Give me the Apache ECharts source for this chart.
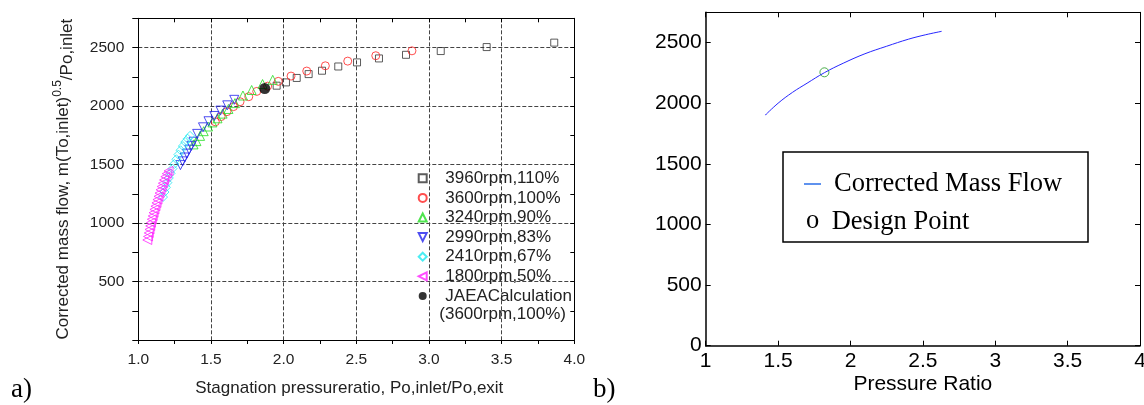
<!DOCTYPE html>
<html>
<head>
<meta charset="utf-8">
<script src="https://cdn.jsdelivr.net/npm/echarts@6/dist/echarts.min.js"></script>
<style>
  html, body { margin: 0; padding: 0; background: #fff; }
  #chart { width: 1144px; height: 405px; }
</style>
</head>
<body>
<div id="chart"></div>
<script>
// ---- Panel a) measured compressor map, [pressure ratio, corrected mass flow] ----
const speed3960 = [[1.952,2174],[2.016,2202],[2.090,2240],[2.172,2273],[2.264,2302],[2.376,2338],
  [2.505,2373],[2.656,2407],[2.842,2438],[3.081,2470],[3.397,2504],[3.862,2542]];
const speed3600 = [[1.53,1865],[1.57,1910],[1.61,1952],[1.655,1995],[1.70,2037],[1.76,2080],[1.815,2125],
  [1.89,2170],[1.963,2211],[2.051,2256],[2.159,2299],[2.287,2344],[2.441,2384],[2.634,2430],[2.883,2472]];
const speed3240 = [[1.38,1672],[1.40,1700],[1.425,1745],[1.45,1785],[1.48,1825],[1.51,1860],[1.545,1895],
  [1.58,1935],[1.62,1975],[1.665,2025],[1.72,2090],[1.78,2137],[1.855,2188],[1.925,2224]];
const speed2990 = [[1.29,1495],[1.305,1527],[1.32,1560],[1.335,1593],[1.35,1627],[1.365,1660],[1.38,1695],
  [1.405,1762],[1.445,1818],[1.483,1870],[1.523,1915],[1.565,1961],[1.612,2006],[1.66,2053]];
const speed2410 = [[1.17,1222],[1.18,1265],[1.19,1305],[1.20,1345],[1.21,1385],[1.222,1425],[1.235,1465],
  [1.248,1505],[1.262,1545],[1.276,1585],[1.291,1622],[1.307,1658],[1.323,1692],[1.34,1720],[1.356,1745]];
const speed1800 = [[1.062,855],[1.067,885],[1.072,915],[1.077,945],[1.082,975],[1.087,1003],[1.093,1032],
  [1.099,1060],[1.105,1088],[1.111,1116],[1.118,1144],[1.125,1172],[1.132,1200],[1.139,1228],[1.146,1256],
  [1.153,1284],[1.161,1312],[1.169,1340],[1.177,1368],[1.186,1396],[1.196,1422],[1.208,1445]];
const jaeaPoint = [[1.87,2150]];

const seriesNamesA = ['3960rpm,110%', '3600rpm,100%', '3240rpm,90%', '2990rpm,83%',
  '2410rpm,67%', '1800rpm,50%', 'JAEACalculation'];

// ---- Panel b) calculated curve and design point ----
const massFlowCurve = [[1.41,1900],[1.50,2000],[1.60,2090],[1.70,2165],[1.82,2252],[1.95,2330],
  [2.10,2408],[2.25,2470],[2.40,2528],[2.52,2565],[2.63,2593]];
const designPoint = [[1.82,2255]];

const SANS = '"Liberation Sans", Arial, sans-serif';
const SERIF = '"Liberation Serif", "Times New Roman", serif';
const INK = '#222';

// outline-only triangle shapes used by the legend
const TRI_DOWN = 'path://M0,0L10,0L5,10Z';
const TRI_LEFT = 'path://M10,0L10,10L0,5Z';

function openMarker(name, data, symbol, color, size, rotate) {
  return {
    name, type: 'scatter', xAxisIndex: 0, yAxisIndex: 0, data,
    symbol, symbolSize: size, symbolRotate: rotate || 0,
    itemStyle: { color: 'rgba(0,0,0,0)', borderColor: color, borderWidth: 1 },
    emphasis: { disabled: true }, animation: false
  };
}

const chart = echarts.init(document.getElementById('chart'), null, { renderer: 'canvas' });

chart.setOption({
  animation: false,
  backgroundColor: '#fff',
  grid: [
    { left: 138.3, top: 18.3, width: 436, height: 321.7, outerBoundsMode: 'none', containLabel: false },
    { left: 705.7, top: 12.3, width: 434.3, height: 333.4, outerBoundsMode: 'none', containLabel: false }
  ],
  xAxis: [
    { // a) bottom
      gridIndex: 0, type: 'value', min: 1, max: 4, interval: 0.5,
      axisLine: { show: true, onZero: false, lineStyle: { color: '#000', width: 1 } },
      axisTick: { show: true, inside: false, length: 4, lineStyle: { color: '#000' } },
      minorTick: { show: true, splitNumber: 2, length: 4, lineStyle: { color: '#000' } },
      axisLabel: { margin: 12, fontSize: 15.5, fontFamily: SANS, color: INK,
        formatter: v => v.toFixed(1) },
      splitLine: { show: true, lineStyle: { color: '#444', type: [4, 2], width: 1 } },
      name: 'Stagnation pressureratio, Po,inlet/Po,exit', nameLocation: 'middle', nameGap: 40,
      nameMoveOverlap: false,
      nameTextStyle: { fontSize: 17, fontFamily: SANS, color: INK, padding: [0, 14, 0, 0] }
    },
    { // a) top frame
      gridIndex: 0, type: 'value', position: 'top', min: 1, max: 4, interval: 0.25,
      axisLine: { show: true, onZero: false, lineStyle: { color: '#000', width: 1 } },
      axisTick: { show: true, inside: true, length: 4, lineStyle: { color: '#000' } },
      axisLabel: { show: false }, splitLine: { show: false }
    },
    { // b) bottom
      gridIndex: 1, type: 'value', min: 1, max: 4, interval: 0.5,
      axisLine: { show: true, onZero: false, lineStyle: { color: '#000', width: 1.5 } },
      axisTick: { show: true, inside: true, length: 5, lineStyle: { color: '#000' } },
      axisLabel: { margin: 5, fontSize: 21, fontFamily: SANS, color: '#000' },
      splitLine: { show: false },
      name: 'Pressure Ratio', nameLocation: 'middle', nameGap: 28, nameMoveOverlap: false,
      nameTextStyle: { fontSize: 21, fontFamily: SANS, color: '#000' }
    },
    { // b) top frame
      gridIndex: 1, type: 'value', position: 'top', min: 1, max: 4, interval: 0.5,
      axisLine: { show: true, onZero: false, lineStyle: { color: '#000', width: 1 } },
      axisTick: { show: true, inside: true, length: 5, lineStyle: { color: '#000' } },
      axisLabel: { show: false }, splitLine: { show: false }
    }
  ],
  yAxis: [
    { // a) left
      gridIndex: 0, type: 'value', min: 0, max: 2750, interval: 500,
      axisLine: { show: true, onZero: false, lineStyle: { color: '#000', width: 1 } },
      axisTick: { show: true, inside: false, length: 6, lineStyle: { color: '#000' } },
      minorTick: { show: true, splitNumber: 2, length: 6, lineStyle: { color: '#000' } },
      axisLabel: { margin: 14, fontSize: 15.5, fontFamily: SANS, color: INK,
        formatter: v => (v > 0 && v <= 2500 ? String(v) : '') },
      splitLine: { show: true, lineStyle: { color: '#444', type: [4, 2], width: 1 } },
      name: '{m|Corrected mass flow, m(To,inlet)}{s|0.5}{p|/Po,inlet}',
      nameLocation: 'middle', nameRotate: 90, nameGap: 62, nameMoveOverlap: false,
      nameTextStyle: {
        color: INK, fontFamily: SANS,
        rich: {
          m: { fontSize: 17, lineHeight: 25, verticalAlign: 'middle', fontFamily: SANS, color: INK },
          s: { fontSize: 12, lineHeight: 10, verticalAlign: 'top', fontFamily: SANS, color: INK },
          p: { fontSize: 17, lineHeight: 17, verticalAlign: 'bottom', fontFamily: SANS, color: INK }
        }
      }
    },
    { // a) right frame
      gridIndex: 0, type: 'value', position: 'right', min: 0, max: 2750, interval: 250,
      axisLine: { show: true, onZero: false, lineStyle: { color: '#000', width: 1 } },
      axisTick: { show: true, inside: true, length: 4, lineStyle: { color: '#000' } },
      axisLabel: { show: false }, splitLine: { show: false }
    },
    { // b) left
      gridIndex: 1, type: 'value', min: 0, max: 2750, interval: 500,
      axisLine: { show: true, onZero: false, lineStyle: { color: '#000', width: 1.5 } },
      axisTick: { show: true, inside: true, length: 5, lineStyle: { color: '#000' } },
      axisLabel: { margin: 4, fontSize: 21, fontFamily: SANS, color: '#000',
        formatter: v => (v <= 2500 ? String(v) : '') },
      splitLine: { show: false }
    },
    { // b) right frame
      gridIndex: 1, type: 'value', position: 'right', min: 0, max: 2750, interval: 500,
      axisLine: { show: true, onZero: false, lineStyle: { color: '#000', width: 1 } },
      axisTick: { show: true, inside: true, length: 5, lineStyle: { color: '#000' } },
      axisLabel: { show: false }, splitLine: { show: false }
    }
  ],
  legend: [{
    data: [
      { name: seriesNamesA[0] },
      { name: seriesNamesA[1] },
      { name: seriesNamesA[2] },
      { name: seriesNamesA[3], icon: TRI_DOWN },
      { name: seriesNamesA[4] },
      { name: seriesNamesA[5], icon: TRI_LEFT },
      { name: seriesNamesA[6] }
    ],
    orient: 'vertical', left: 417.7, top: 168.5, padding: 0,
    itemGap: 0, itemWidth: 8, itemHeight: 8, selectedMode: false,
    textStyle: { fontSize: 17, lineHeight: 19.6, fontFamily: SANS, color: INK, padding: [0, 0, 0, 13.6] }
  }],
  series: [
    openMarker(seriesNamesA[0], speed3960, 'rect', '#333', 7),
    openMarker(seriesNamesA[1], speed3600, 'circle', '#f22', 8),
    openMarker(seriesNamesA[2], speed3240, 'triangle', '#2d2', 9),
    openMarker(seriesNamesA[3], speed2990, 'triangle', '#22e', 9, 180),
    openMarker(seriesNamesA[4], speed2410, 'diamond', '#1ee8f0', 9),
    openMarker(seriesNamesA[5], speed1800, 'triangle', '#f2f', 9, 90),
    {
      name: seriesNamesA[6], type: 'scatter', xAxisIndex: 0, yAxisIndex: 0, data: jaeaPoint,
      symbol: 'circle', symbolSize: 11, itemStyle: { color: '#000' }, emphasis: { disabled: true }
    },
    {
      name: 'Corrected Mass Flow', type: 'line', xAxisIndex: 2, yAxisIndex: 2, data: massFlowCurve,
      smooth: 0.4, showSymbol: false, symbol: 'none',
      lineStyle: { color: '#2626ff', width: 1 }, emphasis: { disabled: true }
    },
    {
      name: 'Design Point', type: 'scatter', xAxisIndex: 2, yAxisIndex: 2, data: designPoint,
      symbol: 'circle', symbolSize: 9,
      itemStyle: { color: 'rgba(0,0,0,0)', borderColor: '#1f9a1f', borderWidth: 1 },
      emphasis: { disabled: true }
    }
  ],
  graphic: [
    // second line of the JAEA legend entry
    { type: 'text', left: 439.3, top: 306, silent: true,
      style: { text: '(3600rpm,100%)', fontSize: 17, fontFamily: SANS, fill: INK } },
    // panel b) legend box
    { type: 'rect', shape: { x: 783, y: 152, width: 305, height: 90 }, silent: true,
      style: { fill: '#fff', stroke: '#000', lineWidth: 1.5 } },
    { type: 'line', shape: { x1: 804, y1: 184, x2: 821, y2: 184 }, silent: true,
      style: { stroke: '#2a6ee8', lineWidth: 1.5 } },
    { type: 'text', x: 834, y: 184, silent: true,
      style: { text: 'Corrected Mass Flow', fontSize: 26.5, fontFamily: SERIF, fill: '#000',
        verticalAlign: 'middle', align: 'left' } },
    { type: 'text', x: 806, y: 221, silent: true,
      style: { text: 'o', fontSize: 26.5, fontFamily: SERIF, fill: '#000',
        verticalAlign: 'middle', align: 'left' } },
    { type: 'text', x: 831.7, y: 221.7, silent: true,
      style: { text: 'Design Point', fontSize: 26.5, fontFamily: SERIF, fill: '#000',
        verticalAlign: 'middle', align: 'left' } },
    // panel captions
    { type: 'text', x: 11, y: 390, silent: true,
      style: { text: 'a)', fontSize: 27, fontFamily: SERIF, fill: '#000', verticalAlign: 'middle' } },
    { type: 'text', x: 593, y: 390, silent: true,
      style: { text: 'b)', fontSize: 27, fontFamily: SERIF, fill: '#000', verticalAlign: 'middle' } }
  ]
});
</script>
</body>
</html>
